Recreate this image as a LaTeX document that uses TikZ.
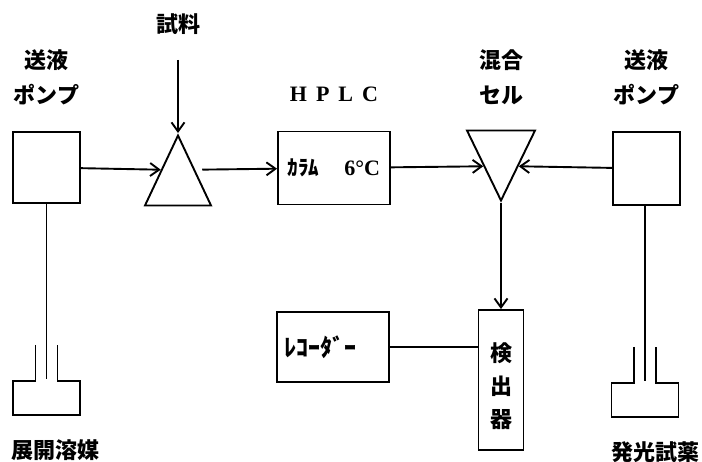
\documentclass[tikz,border=0pt]{standalone}
\usepackage{fontspec}
\setmainfont{Noto Sans CJK JP}
\newfontfamily\hplcfont{Liberation Serif}
\usetikzlibrary{arrows.meta, positioning, shapes.geometric}

\begin{document}
\begin{tikzpicture}[
        x=1pt, y=-1pt, line width=1.9pt,
        lbl/.style={font=\fontsize{22}{35}\selectfont\bfseries, align=center, inner sep=0pt},
        unit/.style={draw, inner sep=0pt, align=center, font=\fontsize{22}{33}\selectfont\bfseries},
        tri/.style={draw, isosceles triangle, isosceles triangle stretches, inner sep=0pt, anchor=apex},
        flow/.style={-{Straight Barb[length=9pt, width=13pt, line width=1.9pt]}},
        bottle/.pic={
          \draw (-11,0) -- (-11,36) -- (-33.5,36) -- (-33.5,70) -- (33.5,70) -- (33.5,36) -- (11,36) -- (11,0);
          \coordinate (-in) at (0,34);
        },
      ]
      \useasboundingbox (0,0) rectangle (702,462);
      % pumps, injector, column, mixing cell
      \node[unit, minimum width=67pt, minimum height=71pt] (lpump) at (46.5,167.5) {};
      \node[tri, shape border rotate=90, minimum width=66pt, minimum height=70pt] (inj) at (178,133) {};
      \node[unit, minimum width=112pt, minimum height=73pt] (col) at (334,168)
        {{\fontsize{21}{25}\selectfont ｶﾗﾑ}\hspace{25pt}{\hplcfont 6°C}};
      \node[tri, shape border rotate=270, minimum width=68pt, minimum height=70pt] (mix) at (501,203) {};
      \node[unit, minimum width=67pt, minimum height=73pt] (rpump) at (646.5,168.5) {};
      % detector and recorder
      \node[unit, minimum width=45pt, minimum height=140pt] (det) at (501,380) {};
      \node[lbl, font=\fontsize{22}{33}\selectfont\bfseries] (detlbl) at (501,386) {検\\出\\器};
      \node[unit, minimum width=112pt, minimum height=70pt, text width=98pt, align=left,
            font=\fontsize{24}{30}\selectfont\bfseries] (rec) at (333,347) {ﾚｺｰﾀﾞｰ};
      % labels
      \node[lbl, above=25pt of lpump] (lpumplbl) {送液\\ポンプ};
      \node[lbl, above=25pt of rpump] (rpumplbl) {送液\\ポンプ};
      \node[lbl] (mixlbl) at (lpumplbl -| mix.apex) {混合\\セル};
      \node[lbl, above=27.5pt of col, font=\fontsize{22}{24}\selectfont\hplcfont\bfseries] (hplc)
        {H\hspace{9pt}P\hspace{9pt}L\hspace{9pt}C};
      \coordinate (smpin) at (178,60);
      \node[lbl, above=24pt of smpin] (smp) {試料};
      % reservoirs
      \pic (lbot) at (46.5,345) {bottle};
      \pic (rbot) at (645,347) {bottle};
      \node[lbl] (solv) at (56,450) {展開溶媒};
      \node[lbl] (reag) at (655,452) {発光試薬};
      % connections
      \draw[flow] (smpin) -- (inj.apex);
      \draw[flow] (lpump) -- (inj.left side);
      \draw[flow, shorten <=7pt] (inj.right side) -- (col);
      \draw[flow] (col) -- (mix.right side);
      \draw[flow] (rpump) -- (mix.left side);
      \draw[flow] (mix.apex) -- (det.north);
      \draw (rec.east) -- (rec.east -| det.west);
      \draw (lpump.south) -- (lbot-in);
      \draw (rpump.south -| rbot-in) -- (rbot-in);
    \end{tikzpicture}
\end{document}
